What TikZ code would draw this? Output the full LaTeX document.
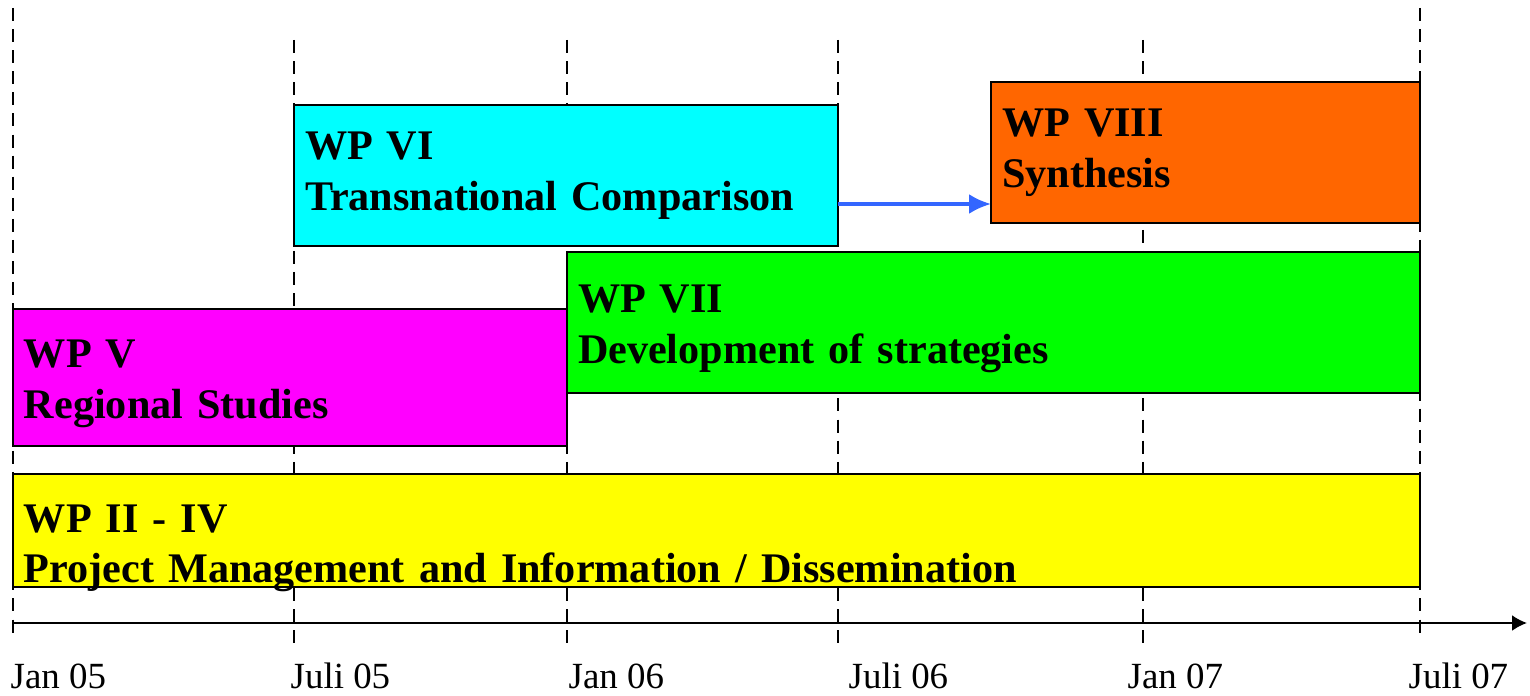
\documentclass[tikz,border=0pt]{standalone}
\usepackage{fontspec}
\setmainfont{Liberation Serif}
\usetikzlibrary{arrows.meta}
\definecolor{wpcyan}{RGB}{0,255,255}
\definecolor{wporange}{RGB}{255,102,0}
\definecolor{wpgreen}{RGB}{0,255,0}
\definecolor{wpmagenta}{RGB}{255,0,255}
\definecolor{wpyellow}{RGB}{255,255,0}
\definecolor{flowblue}{RGB}{51,102,255}

\tikzset{
    wp/.style={draw=black,line width=0.6pt,rectangle,anchor=south west,outer sep=0pt,
        inner xsep=0.11cm,inner ysep=0pt,align=left,
        font=\fontsize{12}{14.5}\selectfont\bfseries},
    milestone/.style={line width=0.6pt,dash pattern=on 3.7pt off 2.3pt},
    date/.style={anchor=base west,inner sep=0pt,font=\fontsize{10.5}{12}\selectfont},
}

\begin{document}
\begin{tikzpicture}
        \useasboundingbox (0,0) rectangle (15.3,6.95);
        % milestones
        \draw[milestone] (0.13,6.87) -- (0.13,0.55);
        \draw[milestone] (2.94,6.55) -- (2.94,0.52);
        \draw[milestone] (5.67,6.55) -- (5.67,0.52);
        \draw[milestone] (8.38,6.55) -- (8.38,0.52);
        \draw[milestone] (11.43,6.55) -- (11.43,0.52);
        \draw[milestone] (14.20,6.87) -- (14.20,0.55);
        % time axis
        \draw[line width=0.6pt,-{Latex[length=1.5mm,width=1.6mm]}] (0.13,0.72) -- (15.27,0.72);
        \node[date] (jan05) at (0.10,0.07) {Jan 05};
        \node[date] (jul05) at (2.90,0.07) {Juli 05};
        \node[date] (jan06) at (5.68,0.07) {Jan 06};
        \node[date] (jul06) at (8.48,0.07) {Juli 06};
        \node[date] (jan07) at (11.27,0.07) {Jan 07};
        \node[date] (jul07) at (14.08,0.07) {Juli 07};
        % work packages
        \node[wp,fill=wpyellow,text width=13.85cm,minimum height=1.13cm,text height=0.56cm,text depth=0.53cm] (ii) at (0.13,1.08)
            {WP II - IV\\Project Management and Information / Dissemination};
        \node[wp,fill=wpmagenta,text width=5.32cm,minimum height=1.37cm,text height=0.4cm] (v) at (0.13,2.49)
            {WP V\\Regional Studies};
        \node[wp,fill=wpgreen,text width=8.31cm,minimum height=1.41cm,text height=0.4cm] (vii) at (5.67,3.02)
            {WP VII\\Development of strategies};
        \node[wp,fill=wpcyan,text width=5.22cm,minimum height=1.41cm] (vi) at (2.94,4.49)
            {WP VI\\Transnational Comparison};
        \node[wp,fill=wporange,text width=4.07cm,minimum height=1.41cm] (viii) at (9.91,4.72)
            {WP VIII\\Synthesis};
        \draw[flowblue,line width=1pt,-{Latex[length=2.2mm,width=2mm]}] ([yshift=-0.285cm]vi.east) -- ([yshift=-0.515cm]viii.west);
\end{tikzpicture}
\end{document}
